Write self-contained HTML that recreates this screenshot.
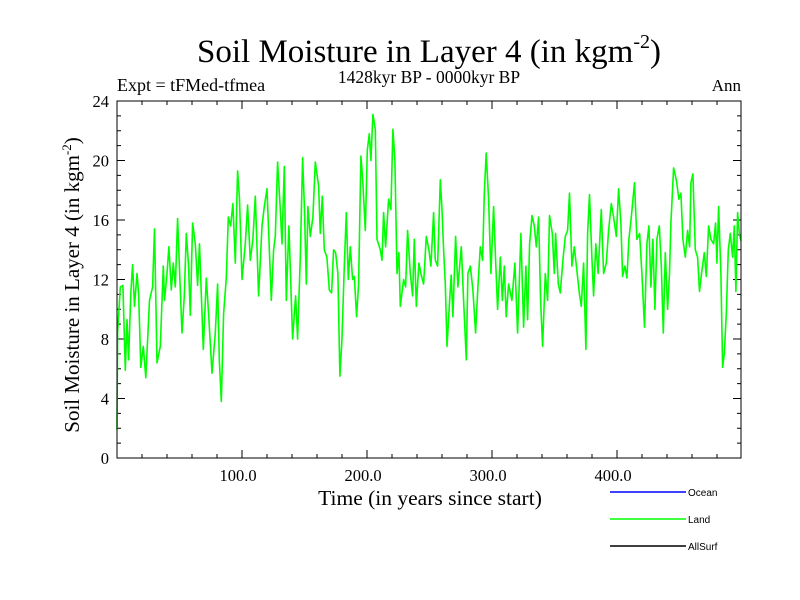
<!DOCTYPE html>
<html><head><meta charset="utf-8"><style>
html,body{margin:0;padding:0;background:#fff;}
svg{display:block;font-family:"Liberation Serif",serif;}
</style></head><body>
<svg id="chart" width="800" height="600" viewBox="0 0 800 600">
<text x="429" y="62" font-size="33" text-anchor="middle">Soil Moisture in Layer 4 (in kgm<tspan font-size="20" dy="-14">-2</tspan><tspan dy="14">)</tspan></text>
<text x="429" y="83" font-size="17.5" text-anchor="middle">1428kyr BP - 0000kyr BP</text>
<text x="117" y="91" font-size="18">Expt = tFMed-tfmea</text>
<text x="741" y="91" font-size="17" text-anchor="end">Ann</text>
<g id="axes"></g>
<path id="land" fill="none" stroke="#00ff00" stroke-width="1.6" stroke-linejoin="round"/>
<rect x="117" y="101" width="624" height="357" fill="none" stroke="#000" stroke-width="1"/>
<text transform="translate(79,285) rotate(-90)" font-size="21" text-anchor="middle">Soil Moisture in Layer 4 (in kgm<tspan font-size="13" dy="-8">-2</tspan><tspan dy="8">)</tspan></text>
<text x="430" y="505" font-size="21.5" text-anchor="middle">Time (in years since start)</text>
<g font-family="Liberation Sans, sans-serif" font-size="10">
<line x1="610" y1="492" x2="686" y2="492" stroke="#0000ff" stroke-width="1.5"/>
<text x="688" y="496">Ocean</text>
<line x1="610" y1="519" x2="686" y2="519" stroke="#00ff00" stroke-width="1.5"/>
<text x="688" y="523">Land</text>
<line x1="610" y1="546" x2="686" y2="546" stroke="#000" stroke-width="1.5"/>
<text x="688" y="550">AllSurf</text>
</g>
</svg>
<script>
const years=[0,0.5,2.6,4.7,6.6,8,9.3,11,12.5,14,16,17.3,19,21,23,26,28.5,30,32,34.6,37,38,40,41.5,43.4,45,46.6,48.5,50.6,52,53.8,55.4,57.3,58.6,60.5,62.6,64.5,66,69,71.4,73.3,76,78.6,80.5,81.8,83.4,85.3,87.4,89,90.9,92.7,94.6,96.5,98,100,102.6,104.5,106.6,108.7,110.6,113.3,116,117.8,120,123.4,125.3,126.6,128.5,130.6,132,133.8,135.4,137.5,140.5,142.9,144.5,146.6,148.5,150,151.4,152.7,154.6,156.7,158.6,161.3,162.6,164.2,165.8,167.9,169.8,171.7,173.3,174.9,176.7,178.3,179.9,181.8,183.4,185,186.6,188.5,189.8,191.7,193.3,195.1,196.7,198.6,200.2,201.8,203.1,204.7,206.6,208,210.6,212,213.3,214.9,217.3,219.1,220.7,222.3,224,225.5,226.6,229.3,230.9,232.5,234.6,236.5,237.8,239.4,241.5,243.1,245.3,247.4,249.5,251.1,253.3,254.6,256.5,258.6,260,261.3,262.6,264,265.8,267.4,268.7,270.9,272.7,275.4,277.3,279.4,280.7,282.6,284.7,286.9,288.7,290.6,292.5,293.8,295.4,297.3,299.1,301.3,302.9,304.5,306.6,308.2,309.8,311.4,313.3,315.9,318.3,320.5,323.1,325.3,327.1,328.5,330.1,332,333.8,335.4,337.3,338.9,340.5,342.6,344.5,346,348.2,349.8,350.9,353,354.6,356.7,358.6,360.5,362,363.9,365.8,367.9,369.8,371.4,373.3,375.1,376.5,378,380,381.3,383,384.9,387.4,389.3,391.4,393.3,395.4,397.3,399.4,401.3,403.1,404.5,406.3,407.9,409.5,411.4,414,415.9,418.1,419.9,422,423.9,425.5,427.1,428.7,430.3,431.9,433.8,435.4,437,438.6,440.5,442,443.1,445.3,447.4,449.5,451.1,452.7,454.6,456.5,458.1,459.1,460.7,462.6,464.5,466,467.9,469.8,471.4,473.3,475.1,477.3,478.9,479.9,481.3,483.1,484.5,485.8,487.4,489,490.6,492.5,493.8,495.1,496.5,497.8,499.1];
const landValues=[1.9,8.4,11.5,11.6,5.9,9.3,6.6,11.1,13,10.2,12.4,11.1,6.1,7.5,5.4,10.6,11.5,15.4,6.4,7.5,12.9,10.6,12.4,14.2,11.3,13.1,11.5,16.1,11.3,8.4,10.9,15.1,12.9,9.6,15.8,14.4,11.6,14.4,7.3,12.1,9.7,5.7,8.4,11.7,6.6,3.8,9.7,12.1,16.2,15.6,17.1,13.1,19.3,17.4,12,14.4,17,13.3,14.7,17.6,10.9,15.6,16.9,18.1,10.6,14,14.9,19.9,16.7,14.4,19.6,10.6,15.6,8,10.9,8,13.5,20.2,16.7,11.7,16.9,14.9,16.2,19.9,18.3,15.1,17.6,14,13.5,11.3,11.1,14,13.8,12.4,5.5,7.9,12.9,16.5,12,14.2,12,12.2,9.5,11.7,20.3,18.5,15.3,20.7,21.8,20,23.1,22.1,14.7,14,13.3,16.5,14.2,17.4,16.7,22.1,20,12.4,13.8,10.2,12,11.5,15.3,12.4,10.9,14.7,10.2,13.1,12.4,11.7,14.9,14,12.9,16.5,13.3,12.9,18.7,16.7,14,11.7,7.5,10.2,12.3,9.5,14.9,11.5,14.2,10.6,6.6,12.4,12.9,11.3,8.4,11.5,14.2,13.3,17.8,20.5,17.4,12.4,16.9,13.3,10,13.5,10.6,12.9,9.5,11.7,10.6,13.1,8.4,15.1,8.8,12.9,9.3,14.4,16.3,15.6,14.2,16.2,10.6,7.5,12.4,10.6,16.3,15.1,12.4,15.1,11.7,11.1,13.3,14.9,15.3,17.8,12.9,14.2,12.6,11.1,10.2,13.1,7.3,15.1,17.7,13.3,10.9,14.4,12.4,16.7,12.4,13.1,15.3,17.1,16.2,14.9,18.1,15.8,12.2,12.9,12.1,14.7,16.2,18.5,14.7,15.1,12.4,8.8,14.4,15.6,11.5,14.7,10,14.7,15.6,12.9,8.4,13.8,10,12.4,15.8,19.5,18.7,17.4,17.8,14.7,13.5,15.3,14.2,18.5,19.1,14,13.5,11.2,12.6,13.8,12.2,15.6,14.7,14.4,15.8,13.1,16.9,12.4,6.1,7,9.7,14,15.1,13.5,15.6,11.2,16.5,15.1,14.6];
const yTicks=[0,4,8,12,16,20,24];
const xTicks=[100,200,300,400];
const xTickLabels=["100.0","200.0","300.0","400.0"];
const X0=117,X1=741,Y0=458,Y1=101,XMIN=0,XMAX=499.2,YMIN=0,YMAX=24;
function sx(v){return X0+(v-XMIN)/(XMAX-XMIN)*(X1-X0);}
function sy(v){return Y0-(v-YMIN)/(YMAX-YMIN)*(Y0-Y1);}
const NS="http://www.w3.org/2000/svg";
const axes=document.getElementById('axes');
function ln(x1,y1,x2,y2,name){const l=document.createElementNS(NS,'line');l.setAttribute('x1',x1);l.setAttribute('y1',y1);l.setAttribute('x2',x2);l.setAttribute('y2',y2);l.setAttribute('stroke','#000');l.setAttribute('stroke-width','1');


axes.appendChild(l);}
function tx(x,y,s,anchor,name){const t=document.createElementNS(NS,'text');t.setAttribute('x',x);t.setAttribute('y',y);t.setAttribute('font-size','16.5');t.setAttribute('text-anchor',anchor);t.textContent=s;


axes.appendChild(t);}
for(let v=YMIN;v<=YMAX;v+=1){const y=sy(v);const major=yTicks.includes(v);const L=major?8:4;ln(X0,y,X0+L,y,'y-tick');ln(X1,y,X1-L,y,'y-tick-right');}
yTicks.forEach(v=>tx(X0-8,sy(v)+6,String(v),'end','y-tick-label'));
for(let v=20;v<XMAX;v+=20){const x=sx(v);const major=xTicks.includes(v);const L=major?8:4;ln(x,Y0,x,Y0-L,'x-tick');ln(x,Y1,x,Y1+L,'x-tick-top');}
xTicks.forEach((v,i)=>tx(sx(v)-4,Y0+23,xTickLabels[i],'middle','x-tick-label'));
let d='';
years.forEach((yr,i)=>{d+=(i?'L':'M')+sx(yr).toFixed(1)+' '+sy(landValues[i]).toFixed(1);});
document.getElementById('land').setAttribute('d',d);
</script>
</body></html>
